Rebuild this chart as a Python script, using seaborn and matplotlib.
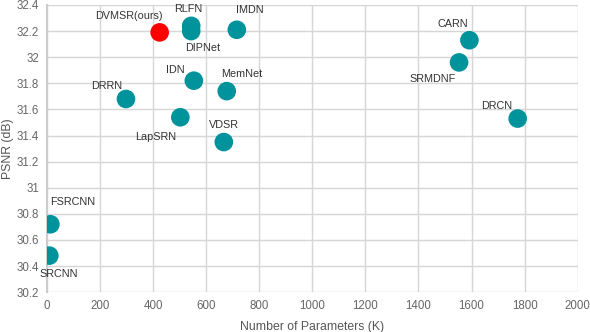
import matplotlib
matplotlib.use("Agg")
import matplotlib.pyplot as plt
import seaborn as sns
import pandas as pd

# model data: parameters (K) and PSNR (dB)
models = ["DVMSR(ours)", "RLFN", "DIPNet", "IMDN", "IDN", "MemNet", "DRRN",
          "LapSRN", "VDSR", "CARN", "SRMDNF", "DRCN", "FSRCNN", "SRCNN"]
params = [424, 543, 543, 715, 553, 677, 297, 502, 666, 1592, 1553, 1774, 12, 8]
psnr = [32.19, 32.24, 32.20, 32.21, 31.82, 31.74, 31.68, 31.54, 31.35,
        32.13, 31.96, 31.53, 30.72, 30.48]
group = ["ours"] + ["other"] * 13

# label offsets in points (dx, dy) relative to the marker centre
label_offsets = {
    "DVMSR(ours)": (-22, 12), "RLFN": (-2, 12), "DIPNet": (8, -12),
    "IMDN": (9, 14), "IDN": (-13, 8), "MemNet": (11, 12), "DRRN": (-14, 9),
    "LapSRN": (-18, -14), "VDSR": (0, 12), "CARN": (-12, 12),
    "SRMDNF": (-19, -12), "DRCN": (-15, 9), "FSRCNN": (16, 16),
    "SRCNN": (7, -13),
}

df = pd.DataFrame({"model": models, "params": params, "psnr": psnr, "group": group})

sns.set_style("white")
plt.rcParams["font.family"] = ["Liberation Sans", "DejaVu Sans"]

fig = plt.figure(figsize=(5.9, 3.32), dpi=100)
ax = fig.add_axes([0.08, 0.12, 0.899, 0.865])

ax.grid(True, color="#d6d6d6", linewidth=1.0)
ax.set_axisbelow(True)

sns.scatterplot(data=df, x="params", y="psnr", hue="group",
                palette={"ours": "#ff0000", "other": "#00939b"},
                s=180, edgecolor="none", legend=False, ax=ax, zorder=3)

for m, x, y in zip(models, params, psnr):
    dx, dy = label_offsets[m]
    ax.annotate(m, (x, y), xytext=(dx, dy), textcoords="offset points",
                ha="center", va="center", fontsize=7.8, color="#333333")

ax.set_xlim(0, 2000)
ax.set_ylim(30.2, 32.4)
ax.set_xticks(range(0, 2001, 200))
yt = [30.2 + 0.2 * i for i in range(12)]
ax.set_yticks(yt)
ax.set_yticklabels([f"{v:.1f}".rstrip("0").rstrip(".") for v in yt])
ax.tick_params(length=0, labelsize=8.3, labelcolor="#666666", pad=6)

for side in ["top", "right", "bottom"]:
    ax.spines[side].set_visible(False)
ax.spines["left"].set_color("#cccccc")
ax.spines["left"].set_linewidth(1.5)

ax.set_xlabel("Number of Parameters (K)", fontsize=8.8, color="#555555", labelpad=6)
ax.set_ylabel("PSNR (dB)", fontsize=8.8, color="#555555")
ax.yaxis.set_label_coords(-0.062, 0.5)

fig.savefig("out.png", dpi=100)
